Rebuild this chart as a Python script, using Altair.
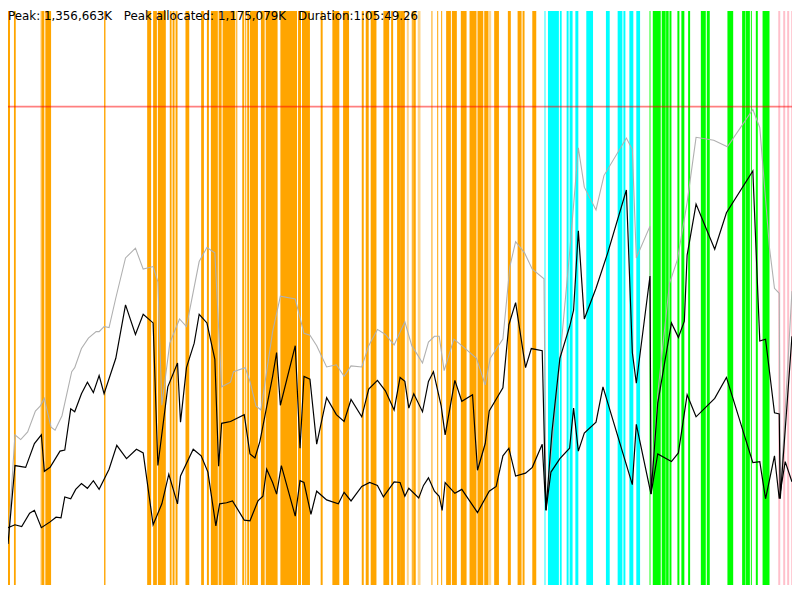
import altair as alt
import pandas as pd

DURATION_S = 3949.26
PEAK_KB = 1356663
Y_TOP_MB = 1590

# ---- memory series (time in s, memory in MB) ----
gray_t = [0,35,64,99,138,163,183,217,237,272,321,336,370,405,444,459,484,509,543,592,642,681,731,755,775,815,864,899,963,1002,1042,1076,1121,1136,1195,1219,1249,1274,1333,1372,1447,1491,1521,1555,1605,1654,1693,1728,1782,1817,1861,1901,1945,1999,2034,2059,2088,2118,2148,2172,2197,2246,2286,2360,2404,2429,2493,2528,2557,2602,2641,2700,2710,2829,2873,2903,2962,3002,3115,3145,3165,3234,3239,3273,3332,3372,3421,3466,3555,3624,3752,3787,3836,3861,3885,3890,3949]
gray_mb = [114,416,403,424,482,496,517,437,429,469,591,602,655,684,702,702,716,713,795,906,933,875,882,840,498,670,737,716,896,935,920,549,562,591,602,564,496,485,702,800,792,697,692,663,604,610,578,607,604,663,708,694,665,729,663,641,615,673,689,689,594,681,663,628,554,628,681,882,951,920,875,848,207,920,1211,1102,1039,1134,1238,1206,906,994,252,530,835,901,1060,1240,1232,1214,1317,1267,933,822,808,239,814]

mid_t = [0,35,89,133,168,183,212,262,286,316,336,370,400,430,459,484,543,592,642,681,731,755,805,854,869,899,938,963,1002,1042,1061,1076,1121,1190,1219,1244,1269,1333,1353,1372,1447,1471,1491,1521,1555,1605,1654,1693,1728,1782,1817,1861,1901,1945,1975,1999,2019,2044,2088,2118,2143,2182,2202,2251,2286,2340,2365,2404,2424,2493,2523,2557,2607,2636,2691,2710,2740,2780,2829,2849,2873,2903,2962,3021,3115,3145,3165,3234,3239,3273,3342,3377,3407,3421,3466,3560,3619,3752,3787,3816,3861,3885,3890,3949]
mid_mb = [114,331,326,392,416,315,326,371,374,488,480,530,562,533,580,530,628,776,694,750,726,331,549,615,451,602,670,750,726,625,329,448,453,472,363,352,398,578,644,498,663,379,578,570,390,519,472,453,514,466,543,567,538,485,575,564,490,530,480,564,591,496,416,567,509,527,318,392,482,546,721,782,602,655,649,207,424,628,716,761,981,737,822,920,1094,644,559,856,252,504,726,686,731,914,1055,930,1031,1147,676,681,477,474,239,689]

low_t = [0,35,69,109,133,168,212,242,267,286,316,341,370,400,430,459,509,548,597,647,681,731,775,810,854,869,933,973,1007,1047,1066,1101,1131,1190,1219,1259,1284,1303,1333,1353,1377,1447,1471,1491,1526,1555,1605,1664,1693,1728,1782,1822,1861,1891,1945,1975,1999,2019,2069,2093,2118,2148,2172,2187,2202,2251,2286,2365,2424,2459,2493,2523,2557,2607,2641,2691,2710,2735,2780,2829,2849,2873,2903,2962,2997,3145,3165,3239,3273,3342,3377,3421,3466,3560,3619,3752,3787,3816,3861,3885,3915,3949]
low_mb = [159,167,162,199,207,159,175,188,186,244,239,265,281,268,289,265,321,387,350,376,366,167,225,307,225,302,376,358,313,164,225,228,233,180,178,233,246,321,284,252,331,191,289,284,196,260,236,225,257,233,273,284,276,244,286,284,246,268,241,276,297,260,246,207,284,254,265,201,260,273,358,379,302,310,326,390,207,313,350,379,490,371,421,451,549,278,445,252,363,342,366,527,466,517,575,339,342,239,358,239,342,286]

# ---- event bands (start / end, s) ----
orange_start = [0,30,168,188,484,701,731,755,815,829,844,894,973,1002,1022,1061,1081,1150,1180,1195,1205,1219,1274,1298,1372,1461,1481,1575,1634,1688,1782,1802,1827,1891,1930,1960,1975,2034,2041,2133,2162,2182,2207,2236,2281,2325,2365,2399,2449,2518,2567,2592,2641]
orange_end = [10,39,183,217,491,721,750,795,824,839,854,913,987,1012,1057,1076,1145,1155,1190,1200,1215,1259,1293,1358,1456,1476,1521,1585,1669,1718,1792,1817,1856,1920,1940,1975,1999,2039,2054,2138,2167,2187,2231,2261,2310,2360,2394,2419,2473,2533,2587,2602,2661]
orange_faint_start = [163,2009,2064,2419]
orange_faint_end = [168,2019,2078,2434]
cyan_start = [2720,2780,2814,2829,2858,2913,3012,3071,3100,3130,3165]
cyan_end = [2775,2789,2824,2844,2873,2947,3031,3095,3110,3150,3184]
cyan_faint_start = [2700]
cyan_faint_end = [2710]
green_start = [3248,3293,3315,3332,3372,3392,3426,3490,3520,3624,3698,3715,3742,3767,3801]
green_end = [3288,3313,3328,3342,3382,3407,3436,3515,3535,3653,3713,3737,3747,3777,3836]
green_faint_start = [3229]
green_faint_end = [3239]
pink_start = [3880,3905,3925,3945]
pink_end = [3890,3915,3935,3949]

labels = ["Peak: 1,356,663K", "Peak allocated: 1,175,079K", "Duration:1:05:49.26"]

W, H = 792, 580

def band_rows(starts, ends, kind, faint):
    return [{"s": s, "e": e, "kind": kind, "faint": faint} for s, e in zip(starts, ends)]

rows = (band_rows(orange_start, orange_end, "orange", False)
        + band_rows(orange_faint_start, orange_faint_end, "orange", True)
        + band_rows(cyan_start, cyan_end, "cyan", False)
        + band_rows(cyan_faint_start, cyan_faint_end, "cyan", True)
        + band_rows(green_start, green_end, "green", False)
        + band_rows(green_faint_start, green_faint_end, "green", True)
        + band_rows(pink_start, pink_end, "pink", False))
bands_df = pd.DataFrame(rows)

xs = alt.Scale(domain=[0, DURATION_S], nice=False, zero=False)
ys = alt.Scale(domain=[0, Y_TOP_MB], nice=False, zero=True)

bands = alt.Chart(bands_df).mark_rect().encode(
    x=alt.X("s:Q", scale=xs, axis=None),
    x2="e:Q",
    color=alt.Color("kind:N", scale=alt.Scale(domain=["orange", "cyan", "green", "pink"],
                                               range=["#ffa500", "#00ffff", "#00ff00", "#ffc0cb"]), legend=None),
    opacity=alt.Opacity("faint:N", scale=alt.Scale(domain=[False, True], range=[1.0, 0.45]), legend=None),
)

def line(t, v, color, sw):
    df = pd.DataFrame({"t": t, "mb": v})
    return alt.Chart(df).mark_line(color=color, strokeWidth=sw).encode(
        x=alt.X("t:Q", scale=xs, axis=None),
        y=alt.Y("mb:Q", scale=ys, axis=None),
    )

gray_line = line(gray_t, gray_mb, "#b0b0b0", 1.1)
mid_line = line(mid_t, mid_mb, "#000000", 1.2)
low_line = line(low_t, low_mb, "#000000", 1.2)

peak = alt.Chart(pd.DataFrame({"p": [PEAK_KB / 1024]})).mark_rule(color="#ff0000", opacity=0.5, strokeWidth=1.7).encode(
    y=alt.Y("p:Q", scale=ys, axis=None)
)

def label(txt, xpos):
    return alt.Chart(pd.DataFrame({"l": [txt]})).mark_text(
        align="left", baseline="alphabetic", font="DejaVu Sans", fontSize=12, color="#000000"
    ).encode(x=alt.value(xpos), y=alt.value(9), text="l:N")

chart = alt.layer(
    bands, peak, gray_line, low_line, mid_line,
    label(labels[0], 0), label(labels[1], 117), label(labels[2], 293),
).properties(
    width=W, height=H, padding=0,
    autosize=alt.AutoSizeParams(type="none"),
).configure_view(stroke=None)

chart.save("out.html", embed_options={"renderer": "svg", "actions": False})
